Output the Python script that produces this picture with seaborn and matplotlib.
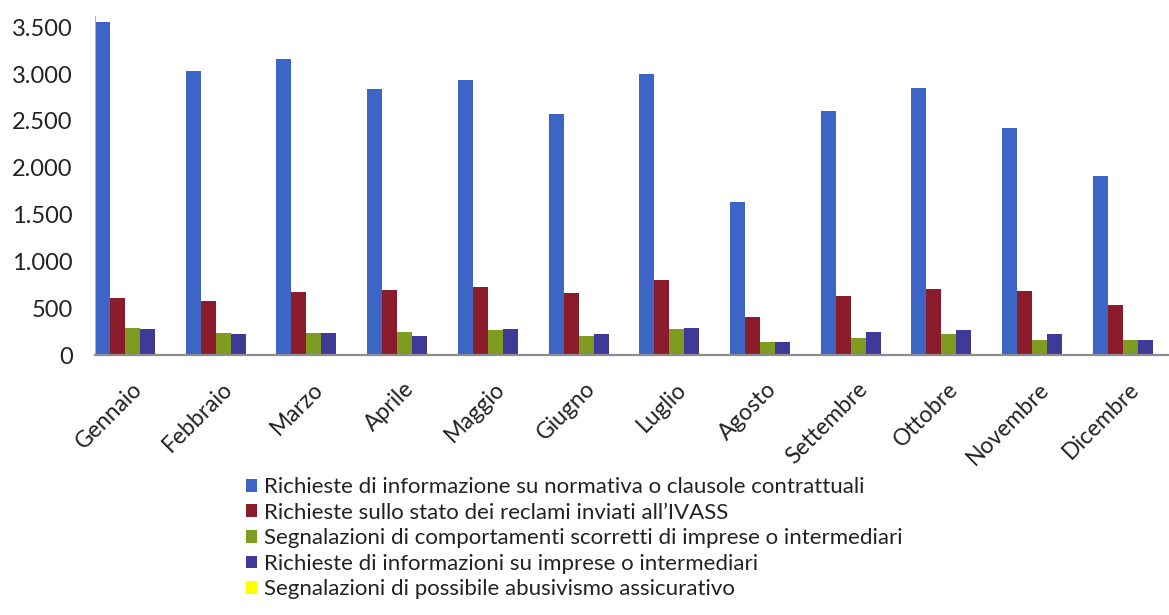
import matplotlib
matplotlib.use("Agg")
import matplotlib.pyplot as plt
from matplotlib.ticker import FuncFormatter, MultipleLocator
from matplotlib.transforms import ScaledTranslation
import seaborn as sns
import pandas as pd

# Monthly counts by type of request
months = ["Gennaio", "Febbraio", "Marzo", "Aprile", "Maggio", "Giugno",
          "Luglio", "Agosto", "Settembre", "Ottobre", "Novembre", "Dicembre"]

series_names = [
    "Richieste di informazione su normativa o clausole contrattuali",
    "Richieste sullo stato dei reclami inviati all\u2019IVASS",
    "Segnalazioni di comportamenti scorretti di imprese o intermediari",
    "Richieste di informazioni su imprese o intermediari",
    "Segnalazioni di possibile abusivismo assicurativo",
]

normativa = [3560, 3030, 3165, 2840, 2935, 2570, 3005, 1635, 2610, 2850, 2425, 1910]
stato_reclami = [610, 580, 672, 693, 721, 661, 800, 402, 634, 705, 688, 538]
comportamenti = [290, 238, 231, 242, 270, 206, 277, 142, 183, 229, 165, 158]
info_imprese = [274, 220, 231, 203, 277, 224, 284, 142, 247, 272, 219, 158]
abusivismo = [3, 2, 2, 2, 3, 6, 4, 2, 2, 3, 2, 2]

colors = ["#3D65C6", "#8A1C2C", "#7E9B22", "#3F3A98", "#FFFF00"]

all_series = [normativa, stato_reclami, comportamenti, info_imprese, abusivismo]
df = pd.DataFrame(
    [(m, name, v)
     for name, vals in zip(series_names, all_series)
     for m, v in zip(months, vals)],
    columns=["Mese", "Tipo", "Numero"],
)

sns.set_theme(style="white")
plt.rcParams["font.family"] = ["Lato", "DejaVu Sans"]

fig = plt.figure(figsize=(11.69, 6.15), dpi=100)
ax = fig.add_axes([95 / 1169, 260 / 615, 1 - 95 / 1169, (355 - 16) / 615])

group_w = 0.827
sns.barplot(data=df, x="Mese", y="Numero", hue="Tipo", order=months,
            hue_order=series_names, palette=colors, saturation=1,
            width=group_w, gap=0, linewidth=0, ax=ax)

ax.set_xlim(-group_w / 2, -group_w / 2 + 1074 / 90.7)
ax.set_ylim(0, 3620)
ax.yaxis.set_major_locator(MultipleLocator(500))
ax.yaxis.set_major_formatter(
    FuncFormatter(lambda v, _: f"{int(v):,}".replace(",", ".")))

ax.set_xlabel("")
ax.set_ylabel("")
for side in ("top", "right"):
    ax.spines[side].set_visible(False)
ax.spines["bottom"].set_color("#8C8C8C")
ax.spines["bottom"].set_linewidth(1.6)
ax.spines["left"].set_color("#B0B0B0")
ax.spines["left"].set_linewidth(0.8)
ax.tick_params(axis="both", length=0)
ax.tick_params(axis="y", labelsize=17, labelcolor="#222222", pad=16)
ax.tick_params(axis="x", labelsize=16.5, labelcolor="#222222", pad=22)
shift = ScaledTranslation(6 / 100, 0, fig.dpi_scale_trans)
for lab in ax.get_xticklabels():
    lab.set_rotation(45)
    lab.set_ha("right")
    lab.set_va("center")
    lab.set_rotation_mode("anchor")
    lab.set_transform(lab.get_transform() + shift)

sns.move_legend(ax, loc="upper left",
                bbox_to_anchor=(235 / 1169, 1 - 466 / 615),
                bbox_transform=fig.transFigure, frameon=False, title=None,
                fontsize=16, handlelength=0.5, handleheight=0.5,
                handletextpad=0.3, labelspacing=0.25, borderpad=0,
                labelcolor="#222222")

fig.savefig("out.png", dpi=100, facecolor="white")
